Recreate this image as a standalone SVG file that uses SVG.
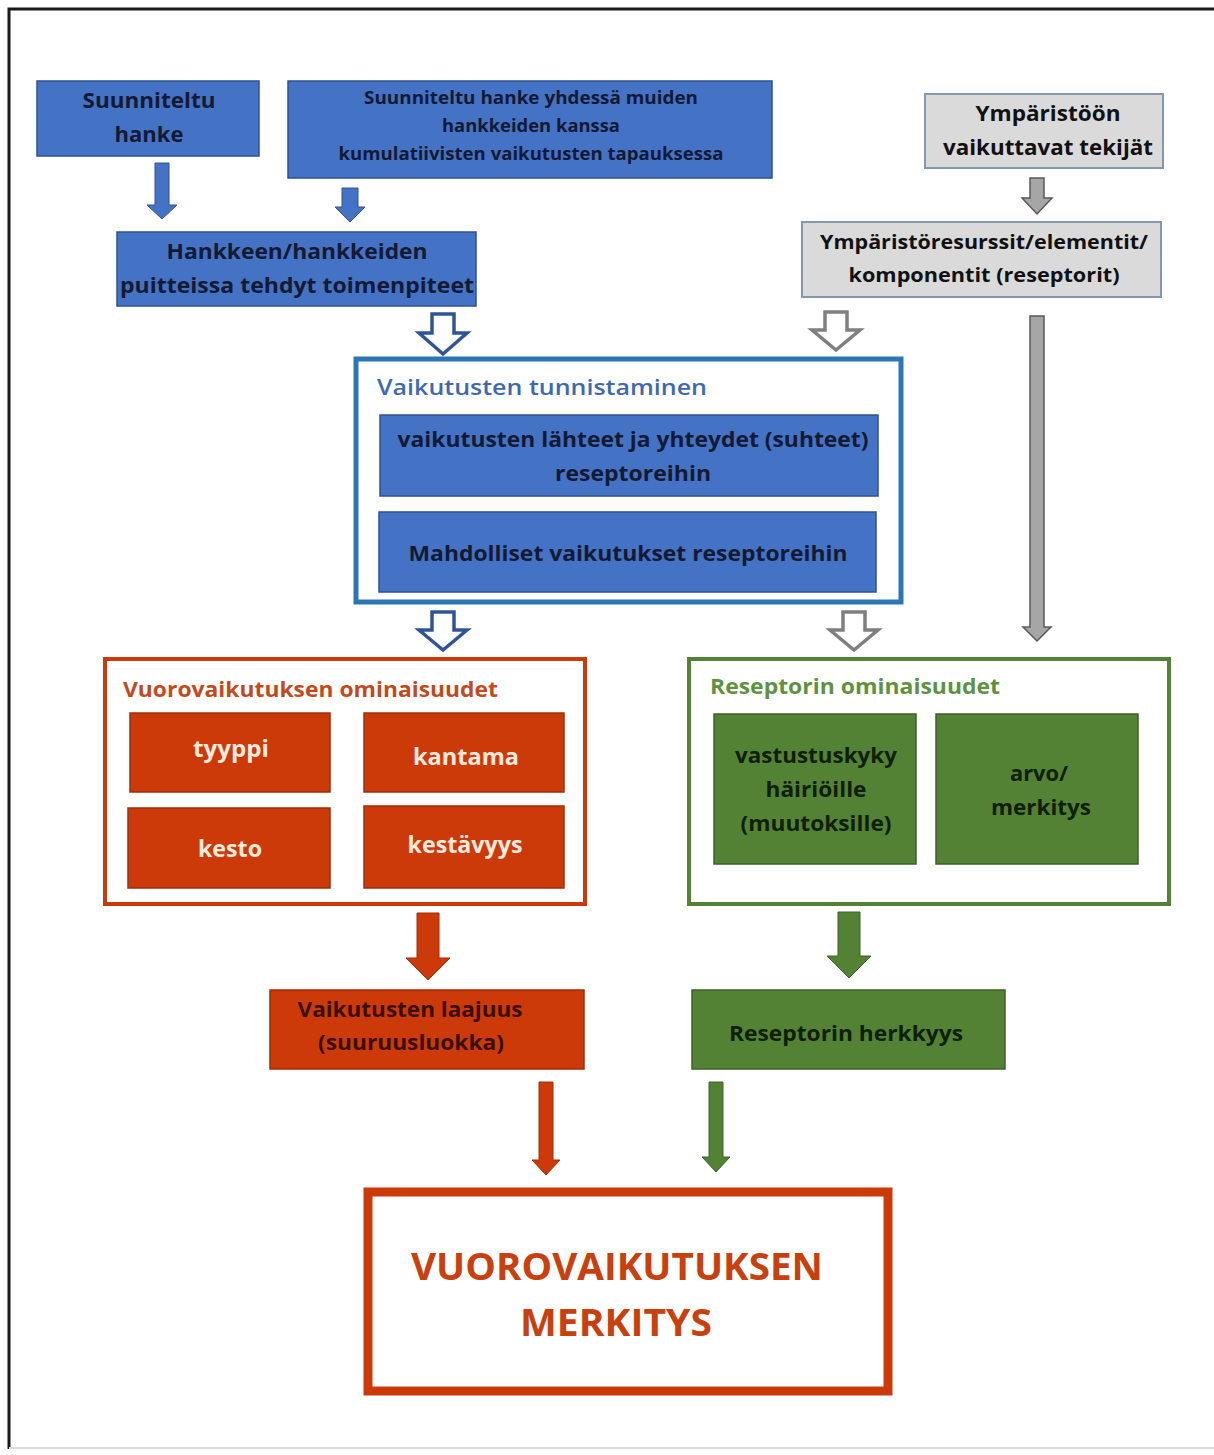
<svg xmlns="http://www.w3.org/2000/svg" width="1214" height="1455" viewBox="0 0 1214 1455">
<style>
text{font-family:"Open Sans",Lato,"Liberation Sans",sans-serif;font-weight:700;text-anchor:middle}
.blue{fill:#4472C4;stroke:#2F528F;stroke-width:1.5}
.gray{fill:#DADADA;stroke:#8497B0;stroke-width:2}
.red{fill:#CC3A0A;stroke:#A02E08;stroke-width:1.5}
.green{fill:#548235;stroke:#3E6127;stroke-width:1.5}
.tb{fill:#141A33}
.tk{fill:#111}
.tw{fill:#FBEADF}
.tr{fill:#3A1005}
.tg{fill:#102008}
</style>
<rect x="0" y="0" width="1214" height="1455" fill="#fff"/>
<path d="M9,1449 V9 H1214" fill="none" stroke="#1a1a1a" stroke-width="3"/>
<line x1="9" y1="1448" x2="1214" y2="1448" stroke="#ddd" stroke-width="2"/>

<g id="connectors">
<polygon points="155,163 169,163 169,205 177,205 162,219 147,205 155,205" fill="#4472C4" stroke="#2F528F" stroke-width="1"/>
<polygon points="342,188 358,188 358,207 365,207 350,222 335,207 342,207" fill="#4472C4" stroke="#2F528F" stroke-width="1"/>
<polygon points="432,314 454,314 454,333 467,333 443,354 419,333 432,333" fill="#fff" stroke="#2F5597" stroke-width="3.5"/>
<polygon points="825,312 847,312 847,330 860,330 836,350 812,330 825,330" fill="#fff" stroke="#7F7F7F" stroke-width="3.5"/>
<polygon points="432,612 454,612 454,630 467,630 443,650 419,630 432,630" fill="#fff" stroke="#2F5597" stroke-width="3.5"/>
<polygon points="843,612 865,612 865,630 878,630 854,650 830,630 843,630" fill="#fff" stroke="#7F7F7F" stroke-width="3.5"/>
<polygon points="1030,178 1044,178 1044,198 1052,198 1037,214 1022,198 1030,198" fill="#A6A6A6" stroke="#595959" stroke-width="1.5"/>
<polygon points="1030,316 1044,316 1044,627 1051,627 1037,641 1023,627 1030,627" fill="#A6A6A6" stroke="#595959" stroke-width="1.5"/>
<polygon points="417,913 439,913 439,958 450,958 428,980 406,958 417,958" fill="#CC3A0A" stroke="#A02E08" stroke-width="1"/>
<polygon points="838,912 860,912 860,956 871,956 849,978 827,956 838,956" fill="#548235" stroke="#3E6127" stroke-width="1"/>
<polygon points="539,1082 553,1082 553,1160 560,1160 546,1175 532,1160 539,1160" fill="#CC3A0A" stroke="#A02E08" stroke-width="1"/>
<polygon points="709,1082 723,1082 723,1157 730,1157 716,1172 702,1157 709,1157" fill="#548235" stroke="#3E6127" stroke-width="1"/>
</g>

<g id="suunniteltu-hanke">
<rect class="blue" x="37" y="81" width="222" height="75"/>
<text class="tb" x="149" y="108" font-size="22" textLength="133" lengthAdjust="spacingAndGlyphs">Suunniteltu</text>
<text class="tb" x="149" y="142" font-size="22" textLength="69" lengthAdjust="spacingAndGlyphs">hanke</text>
</g>

<g id="kumulatiivinen">
<rect class="blue" x="288" y="81" width="484" height="97"/>
<text class="tb" x="531" y="104" font-size="17" textLength="334" lengthAdjust="spacingAndGlyphs">Suunniteltu hanke yhdessä muiden</text>
<text class="tb" x="531" y="132" font-size="17" textLength="178" lengthAdjust="spacingAndGlyphs">hankkeiden kanssa</text>
<text class="tb" x="531" y="160" font-size="17" textLength="385" lengthAdjust="spacingAndGlyphs">kumulatiivisten vaikutusten tapauksessa</text>
</g>

<g id="toimenpiteet">
<rect class="blue" x="117" y="232" width="359" height="74"/>
<text class="tb" x="297" y="259" font-size="22" textLength="261" lengthAdjust="spacingAndGlyphs">Hankkeen/hankkeiden</text>
<text class="tb" x="297" y="293" font-size="22" textLength="354" lengthAdjust="spacingAndGlyphs">puitteissa tehdyt toimenpiteet</text>
</g>

<g id="ymparistoon-vaikuttavat">
<rect class="gray" x="925" y="94" width="238" height="74"/>
<text class="tk" x="1048" y="121" font-size="21" textLength="145" lengthAdjust="spacingAndGlyphs">Ympäristöön</text>
<text class="tk" x="1048" y="155" font-size="21" textLength="210" lengthAdjust="spacingAndGlyphs">vaikuttavat tekijät</text>
</g>

<g id="ymparistoresurssit">
<rect class="gray" x="802" y="222" width="359" height="75"/>
<text class="tk" x="984" y="249" font-size="20" textLength="328" lengthAdjust="spacingAndGlyphs">Ympäristöresurssit/elementit/</text>
<text class="tk" x="984" y="282" font-size="20" textLength="271" lengthAdjust="spacingAndGlyphs">komponentit (reseptorit)</text>
</g>

<g id="vaikutusten-tunnistaminen">
<rect x="356" y="359" width="545" height="243" fill="#fff" stroke="#2E75B6" stroke-width="5"/>
<text x="377" y="395" font-size="22" fill="#3E69B0" style="text-anchor:start;font-weight:600" textLength="330" lengthAdjust="spacingAndGlyphs">Vaikutusten tunnistaminen</text>
<rect class="blue" x="380" y="415" width="498" height="81"/>
<text class="tb" x="633" y="447" font-size="21" textLength="471" lengthAdjust="spacingAndGlyphs">vaikutusten lähteet ja yhteydet (suhteet)</text>
<text class="tb" x="633" y="481" font-size="21" textLength="156" lengthAdjust="spacingAndGlyphs">reseptoreihin</text>
<rect class="blue" x="379" y="512" width="497" height="80"/>
<text class="tb" x="628" y="561" font-size="21" textLength="439" lengthAdjust="spacingAndGlyphs">Mahdolliset vaikutukset reseptoreihin</text>
</g>

<g id="vuorovaikutuksen-ominaisuudet">
<rect x="105" y="659" width="480" height="245" fill="#fff" stroke="#CC3A0A" stroke-width="4"/>
<text x="123" y="697" font-size="21" fill="#C24A20" style="text-anchor:start" textLength="375" lengthAdjust="spacingAndGlyphs">Vuorovaikutuksen ominaisuudet</text>
<rect class="red" x="130" y="713" width="200" height="79"/>
<text class="tw" x="231" y="757" font-size="23" textLength="76" lengthAdjust="spacingAndGlyphs">tyyppi</text>
<rect class="red" x="364" y="713" width="200" height="79"/>
<text class="tw" x="466" y="765" font-size="23" textLength="106" lengthAdjust="spacingAndGlyphs">kantama</text>
<rect class="red" x="128" y="808" width="202" height="80"/>
<text class="tw" x="230" y="857" font-size="23" textLength="64" lengthAdjust="spacingAndGlyphs">kesto</text>
<rect class="red" x="364" y="806" width="200" height="82"/>
<text class="tw" x="465" y="853" font-size="23" textLength="115" lengthAdjust="spacingAndGlyphs">kestävyys</text>
</g>

<g id="reseptorin-ominaisuudet">
<rect x="689" y="659" width="480" height="245" fill="#fff" stroke="#538135" stroke-width="4"/>
<text x="710" y="694" font-size="21" fill="#5E9140" style="text-anchor:start" textLength="290" lengthAdjust="spacingAndGlyphs">Reseptorin ominaisuudet</text>
<rect class="green" x="714" y="714" width="202" height="150"/>
<text class="tg" x="816" y="763" font-size="21" textLength="162" lengthAdjust="spacingAndGlyphs">vastustuskyky</text>
<text class="tg" x="816" y="797" font-size="21" textLength="101" lengthAdjust="spacingAndGlyphs">häiriöille</text>
<text class="tg" x="816" y="831" font-size="21" textLength="151" lengthAdjust="spacingAndGlyphs">(muutoksille)</text>
<rect class="green" x="936" y="714" width="202" height="150"/>
<text class="tg" x="1039" y="781" font-size="21" textLength="58" lengthAdjust="spacingAndGlyphs">arvo/</text>
<text class="tg" x="1041" y="815" font-size="21" textLength="100" lengthAdjust="spacingAndGlyphs">merkitys</text>
</g>

<g id="vaikutusten-laajuus">
<rect class="red" x="270" y="990" width="314" height="79"/>
<text class="tr" x="410" y="1017" font-size="21" textLength="225" lengthAdjust="spacingAndGlyphs">Vaikutusten laajuus</text>
<text class="tr" x="411" y="1050" font-size="21" textLength="186" lengthAdjust="spacingAndGlyphs">(suuruusluokka)</text>
</g>

<g id="reseptorin-herkkyys">
<rect class="green" x="692" y="990" width="313" height="79"/>
<text class="tg" x="846" y="1041" font-size="21" textLength="234" lengthAdjust="spacingAndGlyphs">Reseptorin herkkyys</text>
</g>

<g id="vuorovaikutuksen-merkitys">
<rect x="368" y="1192" width="520" height="199" fill="#fff" stroke="#CC3A0A" stroke-width="9"/>
<text x="617" y="1280" font-size="38" fill="#C8400E" textLength="412" lengthAdjust="spacingAndGlyphs">VUOROVAIKUTUKSEN</text>
<text x="616" y="1336" font-size="38" fill="#C8400E" textLength="192" lengthAdjust="spacingAndGlyphs">MERKITYS</text>
</g>
</svg>
